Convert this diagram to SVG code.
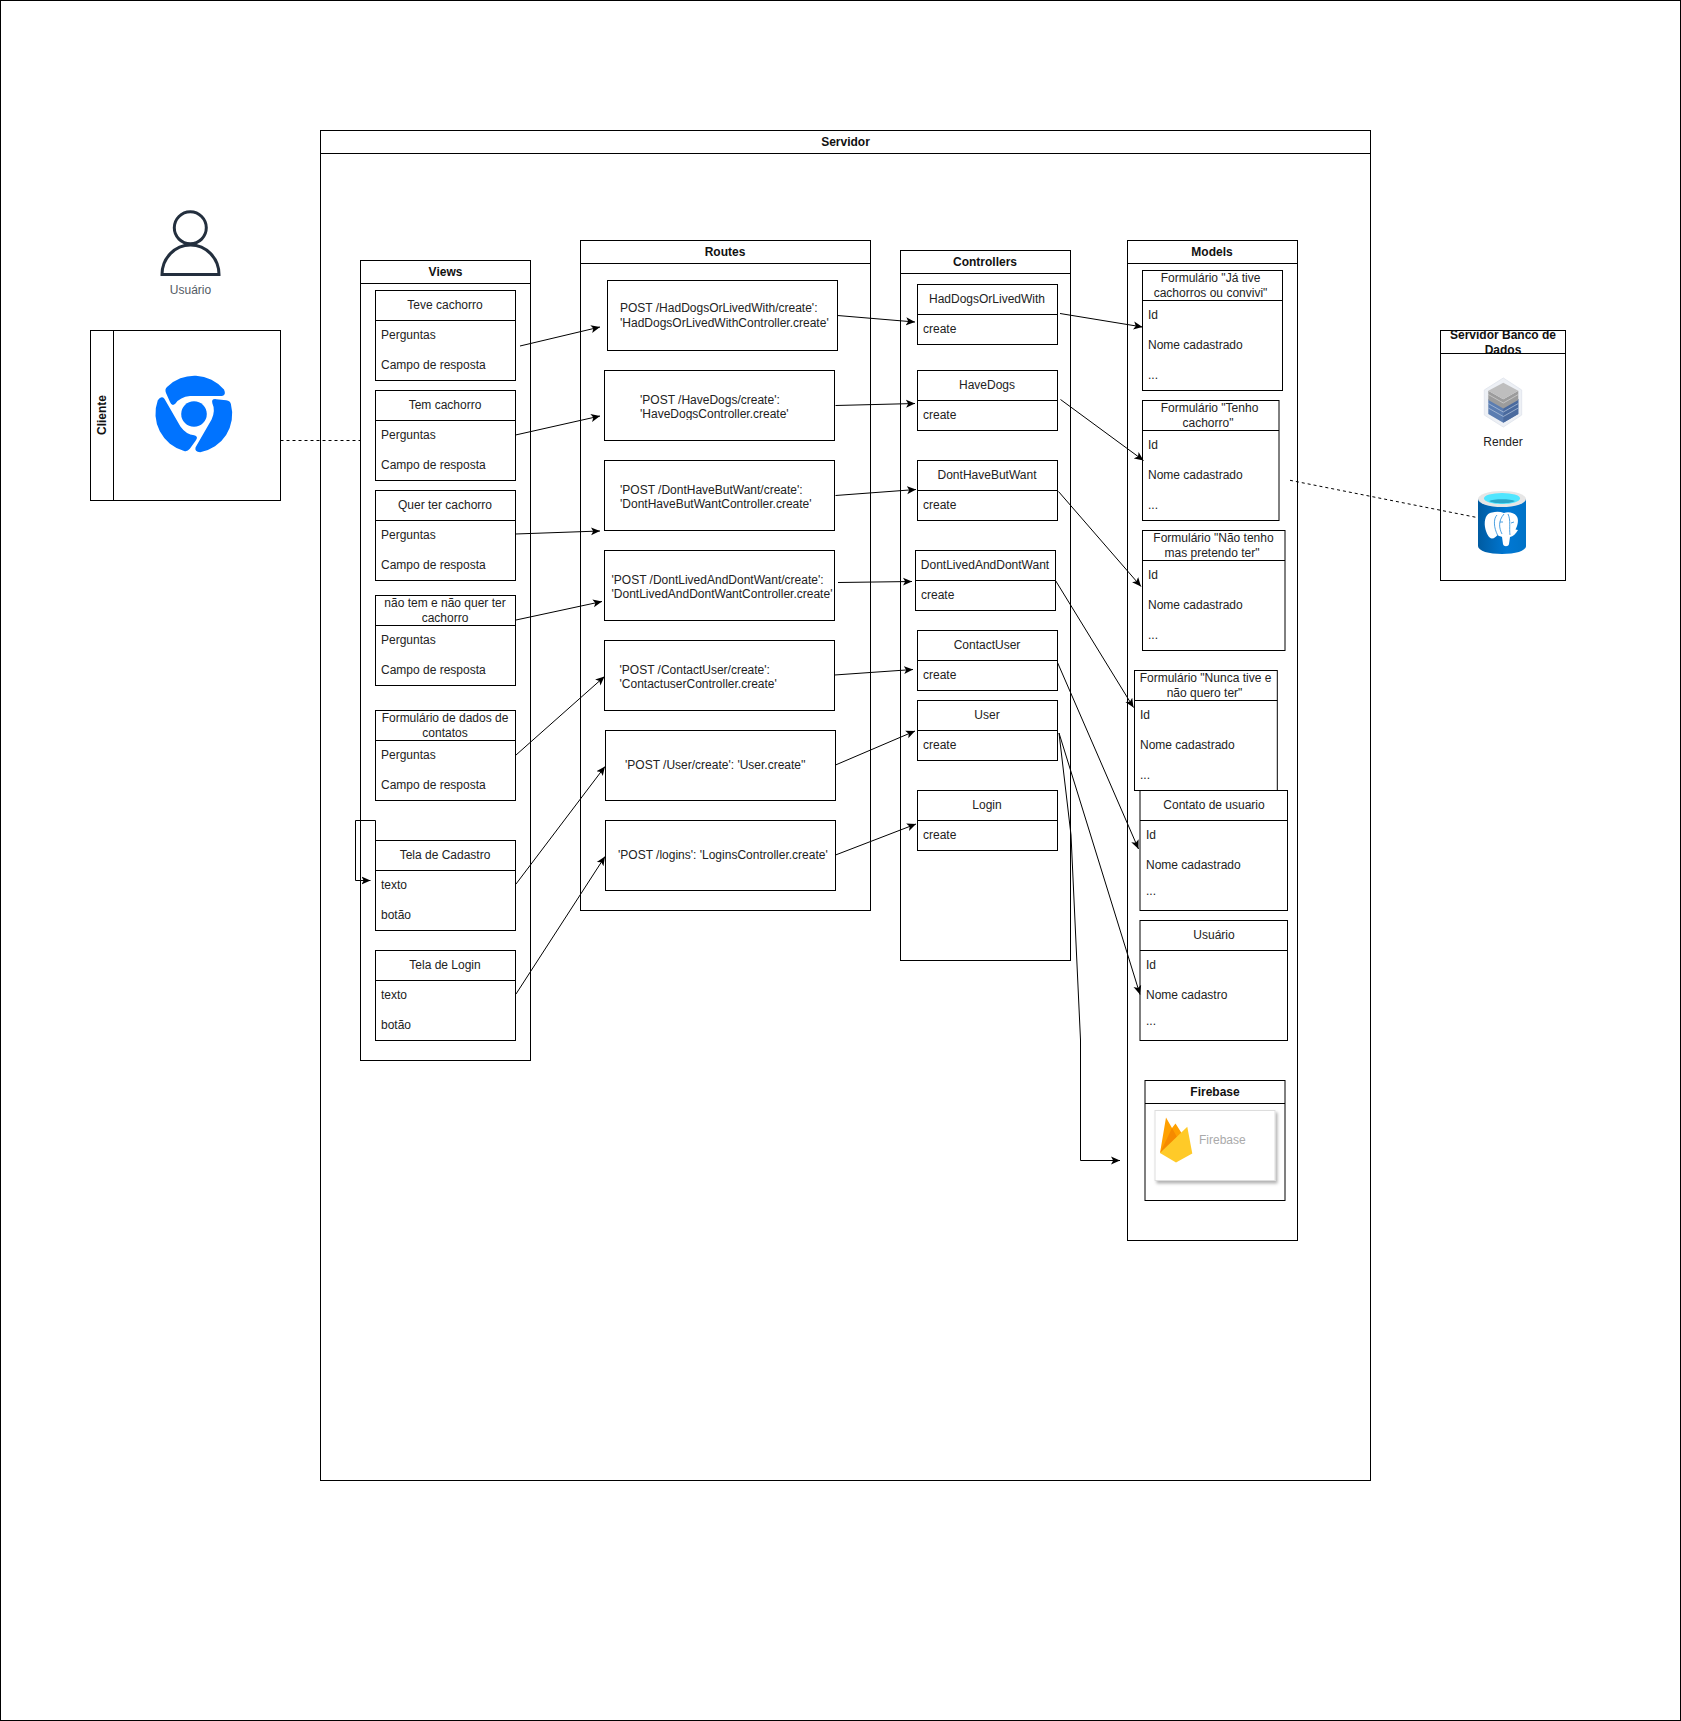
<svg xmlns="http://www.w3.org/2000/svg" xmlns:xlink="http://www.w3.org/1999/xlink" width="1681" height="1721" viewBox="0 0 1681 1721">
<style>
rect,line.s,path.s{fill:none;stroke:#000;stroke-width:1}
text{font-family:"Liberation Sans",Arial,sans-serif;font-size:12px;fill:#222}
.c{text-anchor:middle}
.h{font-weight:bold;fill:#111}
#connectors path{fill:none;stroke:#000;stroke-width:1}
#connectors path.d{stroke-dasharray:3 3}
#connectors path.a{marker-end:url(#arr)}
</style>
<defs>
<marker id="arr" markerUnits="userSpaceOnUse" markerWidth="10" markerHeight="10" refX="9" refY="4.5" orient="auto" viewBox="0 0 10 9"><path d="M0,0.5 L9,4.5 L0,8.5 L2.2,4.5Z" fill="#000"/></marker>
<path id="blob" d="M167,387 A38.7,38.7 0 0 1 224,389.5 Q226.5,395 222,396 L190,396 Q180,397 175.5,403.5 Q172,407 170,402 L166,393 Q164.5,389 167,387Z" fill="#0073FF"/>
<filter id="sh" x="-10%" y="-10%" width="125%" height="125%"><feDropShadow dx="2" dy="2.5" stdDeviation="1.5" flood-color="#000" flood-opacity="0.3"/></filter>
<linearGradient id="cyl" x1="0" x2="1" y1="0" y2="0"><stop offset="0" stop-color="#005BA1"/><stop offset="0.6" stop-color="#0078D4"/><stop offset="1" stop-color="#0072C6"/></linearGradient>
<clipPath id="dbclip"><rect x="1440" y="330" width="125" height="23"/></clipPath>
<clipPath id="r2clip"><rect x="630" y="405" width="180" height="15"/></clipPath>
</defs>
<rect width="1681" height="1721" style="fill:#fff;stroke:none"/>
<rect id="frame" x="0.5" y="0.5" width="1680" height="1720"/>

<g id="servidor"><rect x="320.5" y="130.5" width="1050" height="1350"/><line class="s" x1="320.5" y1="153.5" x2="1370.5" y2="153.5"/><text class="c h" x="845.5" y="146">Servidor</text></g>

<g id="usuario">
<circle cx="190.3" cy="227.8" r="16" fill="none" stroke="#232F3E" stroke-width="3"/>
<path d="M162,274.5 A28.5,29.5 0 0 1 219,274.5Z" fill="none" stroke="#232F3E" stroke-width="3"/>
<text class="c" x="190.5" y="294" style="fill:#545B64">Usuário</text></g>

<g id="cliente"><rect x="90.5" y="330.5" width="190" height="170"/><line class="s" x1="113.5" y1="330.5" x2="113.5" y2="500.5"/>
<text class="c h" transform="translate(106,415) rotate(-90)">Cliente</text>
<circle cx="194" cy="414" r="12.8" fill="#0073FF"/><use href="#blob"/><use href="#blob" transform="rotate(120 194 414)"/><use href="#blob" transform="rotate(-120 194 414)"/></g>

<g id="views"><rect x="360.5" y="260.5" width="170" height="800"/><line class="s" x1="360.5" y1="283.5" x2="530.5" y2="283.5"/><text class="c h" x="445.5" y="276">Views</text></g>

<g id="v-teve"><rect x="375.5" y="290.5" width="140" height="90"/><line class="s" x1="375.5" y1="320.5" x2="515.5" y2="320.5"/><text class="c" x="445" y="309">Teve cachorro</text><text x="381" y="339">Perguntas</text><text x="381" y="369">Campo de resposta</text></g>
<g id="v-tem"><rect x="375.5" y="390.5" width="140" height="90"/><line class="s" x1="375.5" y1="420.5" x2="515.5" y2="420.5"/><text class="c" x="445" y="409">Tem cachorro</text><text x="381" y="439">Perguntas</text><text x="381" y="469">Campo de resposta</text></g>
<g id="v-quer"><rect x="375.5" y="490.5" width="140" height="90"/><line class="s" x1="375.5" y1="520.5" x2="515.5" y2="520.5"/><text class="c" x="445" y="509">Quer ter cachorro</text><text x="381" y="539">Perguntas</text><text x="381" y="569">Campo de resposta</text></g>
<g id="v-nao"><rect x="375.5" y="595.5" width="140" height="90"/><line class="s" x1="375.5" y1="625.5" x2="515.5" y2="625.5"/><text class="c" x="445" y="607">não tem e não quer ter</text><text class="c" x="445" y="622">cachorro</text><text x="381" y="644">Perguntas</text><text x="381" y="674">Campo de resposta</text></g>
<g id="v-form"><rect x="375.5" y="710.5" width="140" height="90"/><line class="s" x1="375.5" y1="740.5" x2="515.5" y2="740.5"/><text class="c" x="445" y="722">Formulário de dados de</text><text class="c" x="445" y="737">contatos</text><text x="381" y="759">Perguntas</text><text x="381" y="789">Campo de resposta</text></g>
<g id="v-cadastro"><rect x="375.5" y="840.5" width="140" height="90"/><line class="s" x1="375.5" y1="870.5" x2="515.5" y2="870.5"/><text class="c" x="445" y="859">Tela de Cadastro</text><text x="381" y="889">texto</text><text x="381" y="919">botão</text></g>
<g id="v-login"><rect x="375.5" y="950.5" width="140" height="90"/><line class="s" x1="375.5" y1="980.5" x2="515.5" y2="980.5"/><text class="c" x="445" y="969">Tela de Login</text><text x="381" y="999">texto</text><text x="381" y="1029">botão</text></g>

<g id="routes"><rect x="580.5" y="240.5" width="290" height="670"/><line class="s" x1="580.5" y1="263.5" x2="870.5" y2="263.5"/><text class="c h" x="725" y="256">Routes</text></g>
<g id="r1"><rect x="607.5" y="280.5" width="230" height="70"/><text x="620" y="312">POST /HadDogsOrLivedWith/create':</text><text x="620" y="327">'HadDogsOrLivedWithController.create'</text></g>
<g id="r2"><rect x="604.5" y="370.5" width="230" height="70"/><text x="640" y="404">'POST /HaveDogs/create':</text><text x="640" y="418" clip-path="url(#r2clip)">'HaveDogsController.create'</text></g>
<g id="r3"><rect x="604.5" y="460.5" width="230" height="70"/><text x="620" y="494">'POST /DontHaveButWant/create':</text><text x="620" y="508">'DontHaveButWantController.create'</text></g>
<g id="r4"><rect x="604.5" y="550.5" width="230" height="70"/><text x="611.5" y="584">'POST /DontLivedAndDontWant/create':</text><text x="611.5" y="598">'DontLivedAndDontWantController.create'</text></g>
<g id="r5"><rect x="604.5" y="640.5" width="230" height="70"/><text x="619.5" y="674">'POST /ContactUser/create':</text><text x="619.5" y="688">'ContactuserController.create'</text></g>
<g id="r6"><rect x="605.5" y="730.5" width="230" height="70"/><text x="625" y="769">'POST /User/create': 'User.create''</text></g>
<g id="r7"><rect x="605.5" y="820.5" width="230" height="70"/><text x="618" y="859">'POST /logins': 'LoginsController.create'</text></g>

<g id="controllers"><rect x="900.5" y="250.5" width="170" height="710"/><line class="s" x1="900.5" y1="273.5" x2="1070.5" y2="273.5"/><text class="c h" x="985" y="266">Controllers</text></g>
<g id="c1"><rect x="917.5" y="284.5" width="140" height="60"/><line class="s" x1="917.5" y1="314.5" x2="1057.5" y2="314.5"/><text class="c" x="987" y="303">HadDogsOrLivedWith</text><text x="923" y="333">create</text></g>
<g id="c2"><rect x="917.5" y="370.5" width="140" height="60"/><line class="s" x1="917.5" y1="400.5" x2="1057.5" y2="400.5"/><text class="c" x="987" y="389">HaveDogs</text><text x="923" y="419">create</text></g>
<g id="c3"><rect x="917.5" y="460.5" width="140" height="60"/><line class="s" x1="917.5" y1="490.5" x2="1057.5" y2="490.5"/><text class="c" x="987" y="479">DontHaveButWant</text><text x="923" y="509">create</text></g>
<g id="c4"><rect x="915.5" y="550.5" width="140" height="60"/><line class="s" x1="915.5" y1="580.5" x2="1055.5" y2="580.5"/><text class="c" x="985" y="569">DontLivedAndDontWant</text><text x="921" y="599">create</text></g>
<g id="c5"><rect x="917.5" y="630.5" width="140" height="60"/><line class="s" x1="917.5" y1="660.5" x2="1057.5" y2="660.5"/><text class="c" x="987" y="649">ContactUser</text><text x="923" y="679">create</text></g>
<g id="c6"><rect x="917.5" y="700.5" width="140" height="60"/><line class="s" x1="917.5" y1="730.5" x2="1057.5" y2="730.5"/><text class="c" x="987" y="719">User</text><text x="923" y="749">create</text></g>
<g id="c7"><rect x="917.5" y="790.5" width="140" height="60"/><line class="s" x1="917.5" y1="820.5" x2="1057.5" y2="820.5"/><text class="c" x="987" y="809">Login</text><text x="923" y="839">create</text></g>

<g id="models"><rect x="1127.5" y="240.5" width="170" height="1000"/><line class="s" x1="1127.5" y1="263.5" x2="1297.5" y2="263.5"/><text class="c h" x="1212" y="256">Models</text></g>
<g id="m1"><rect x="1142.5" y="270.5" width="140" height="120"/><line class="s" x1="1142.5" y1="300.5" x2="1282.5" y2="300.5"/><text class="c" x="1210.5" y="282">Formulário "Já tive</text><text class="c" x="1210.5" y="297">cachorros ou convivi"</text><text x="1148" y="319">Id</text><text x="1148" y="349">Nome cadastrado</text><text x="1148" y="379">...</text></g>
<g id="m2"><rect x="1142.5" y="400.5" width="136.5" height="120"/><line class="s" x1="1142.5" y1="430.5" x2="1279" y2="430.5"/><text class="c" x="1209.5" y="412">Formulário "Tenho</text><text class="c" x="1208" y="427">cachorro"</text><text x="1148" y="449">Id</text><text x="1148" y="479">Nome cadastrado</text><text x="1148" y="509">...</text></g>
<g id="m3"><rect x="1142.5" y="530.5" width="142.5" height="120"/><line class="s" x1="1142.5" y1="560.5" x2="1285" y2="560.5"/><text class="c" x="1213.5" y="542">Formulário "Não tenho</text><text class="c" x="1212" y="557">mas pretendo ter"</text><text x="1148" y="579">Id</text><text x="1148" y="609">Nome cadastrado</text><text x="1148" y="639">...</text></g>
<g id="m4"><rect x="1134.5" y="670.5" width="142.8" height="120"/><line class="s" x1="1134.5" y1="700.5" x2="1277.3" y2="700.5"/><text class="c" x="1205.5" y="682">Formulário "Nunca tive e</text><text class="c" x="1204.5" y="697">não quero ter"</text><text x="1140" y="719">Id</text><text x="1140" y="749">Nome cadastrado</text><text x="1140" y="779">...</text></g>
<g id="m5"><rect x="1140" y="790.5" width="147.5" height="120"/><line class="s" x1="1140" y1="820.5" x2="1287.5" y2="820.5"/><text class="c" x="1214" y="809">Contato de usuario</text><text x="1146" y="839">Id</text><text x="1146" y="869">Nome cadastrado</text><text x="1146" y="895">...</text></g>
<g id="m6"><rect x="1140" y="920.5" width="147.5" height="120"/><line class="s" x1="1140" y1="950.5" x2="1287.5" y2="950.5"/><text class="c" x="1214" y="939">Usuário</text><text x="1146" y="969">Id</text><text x="1146" y="999">Nome cadastro</text><text x="1146" y="1025">...</text></g>

<g id="firebase"><rect x="1145" y="1080.5" width="140" height="120"/><line class="s" x1="1145" y1="1103.5" x2="1285" y2="1103.5"/><text class="c h" x="1215" y="1096">Firebase</text>
<rect x="1155" y="1110.5" width="120" height="70" style="fill:#fff;stroke:#ddd" filter="url(#sh)"/>
<path d="M1160,1153 L1166,1117.5 L1172,1128 L1175.5,1123.5 L1186,1140Z" fill="#FFA000"/>
<path d="M1160,1153 L1172,1128 L1177,1137Z" fill="#F68A00"/>
<path d="M1160,1153 L1187.3,1126.7 L1192.3,1153.5 L1176,1162.5Z" fill="#FFCA28"/>
<text x="1199" y="1144" style="fill:#aaa">Firebase</text></g>

<g id="db-server"><rect x="1440.5" y="330.5" width="125" height="250"/><line class="s" x1="1440.5" y1="353.5" x2="1565.5" y2="353.5"/>
<g clip-path="url(#dbclip)"><text class="c h" x="1503" y="339">Servidor Banco de</text><text class="c h" x="1503" y="354">Dados</text></g></g>

<g id="render">
<path d="M1503.3,378 L1521.7,390 L1521.7,415 L1503.3,427 L1484.3,415 L1484.3,390Z" fill="#EDF0F5" stroke="#E3E7EE"/>
<path d="M1488.3,399 L1503.3,407.5 L1518.3,399 L1518.3,414 L1503.3,422.7 L1488.3,414Z" fill="#5B7DB1"/>
<path d="M1503.3,407.5 L1518.3,399 L1518.3,414 L1503.3,422.7Z" fill="#4A6A9E"/>
<path d="M1488.3,390.7 L1503.3,399.3 L1518.3,390.7 L1518.3,400 L1503.3,408.5 L1488.3,400Z" fill="#9C9C9C"/>
<path d="M1488.3,394.5 L1503.3,403 L1518.3,394.5" fill="none" stroke="#D5D5D5" stroke-width="0.7"/>
<path d="M1503.3,382.7 L1518.3,390.7 L1503.3,399.3 L1488.3,390.7Z" fill="#BEBEBE"/>
<path d="M1488.3,403.5 L1503.3,412 L1518.3,403.5 M1488.3,408 L1503.3,416.5 L1518.3,408" fill="none" stroke="#B9C8DE" stroke-width="0.7"/>
<text class="c" x="1503" y="446">Render</text></g>

<g id="postgres">
<path d="M1478,499 V546 C1478,551 1489,554 1502,554 C1515,554 1526,551 1526,546 V499Z" fill="url(#cyl)"/>
<ellipse cx="1502" cy="499" rx="24" ry="8" fill="#E6E6E6"/>
<ellipse cx="1502" cy="498.5" rx="18" ry="5.5" fill="#50E6FF"/>
<path d="M1489,501 C1493,498.5 1511,498.5 1515,501 C1511,504 1493,504 1489,501Z" fill="#2AA7C9"/>
<path d="M1492,512.5 C1486,513 1484,520 1485,527 C1486,533 1489,538.5 1492,538.5 C1494.5,538.5 1496,536.5 1497.5,535 C1499,536 1501,536.5 1502,537 L1503,544 C1503.5,547 1508.5,547 1509,544 L1510,537 C1513,536.5 1516,533.5 1518,530 L1515.5,529.5 C1518,525 1519,519 1516.5,516 C1514,512 1507,511.5 1504,513 C1500,511.5 1496,511.5 1492,512.5Z" fill="#fff"/>
<path d="M1497,515 C1493,519 1494,528 1497.5,535 M1502,534 C1499,528 1498,521 1504,514 M1510,535 C1509,528 1511,520 1508,514 M1500,522 L1503,522 M1511,523 L1514,522" fill="none" stroke="#0078D4" stroke-width="0.7"/></g>

<g id="connectors">
<path class="d" d="M280.5,440.5 H360.5"/>
<path class="d" d="M1290,480.3 L1476,517.3"/>
<path class="a" d="M375.5,840.5 V820.5 H355.5 V880.5 H370.5"/>
<path class="a" d="M520,346 L600,327"/>
<path class="a" d="M515.5,435 L600,416"/>
<path class="a" d="M515.5,534 L600,531"/>
<path class="a" d="M516,620 L602,601.5"/>
<path class="a" d="M516,755 L604.5,676.5"/>
<path class="a" d="M516,884 L605,766.5"/>
<path class="a" d="M516,994 L605,856.5"/>
<path class="a" d="M837.5,315.5 L915,322"/>
<path class="a" d="M835.5,405.5 L915,403.5"/>
<path class="a" d="M835.5,495.5 L916,489.5"/>
<path class="a" d="M838,582.5 L912,581.5"/>
<path class="a" d="M834.5,675 L913,669.5"/>
<path class="a" d="M835.5,765 L915,731"/>
<path class="a" d="M835.5,855 L916,824"/>
<path class="a" d="M1060,313.5 L1142.5,327"/>
<path class="a" d="M1060.5,399.5 L1143.5,460.5"/>
<path class="a" d="M1058.5,491.5 L1141,586.5"/>
<path class="a" d="M1055.5,580.5 L1133.5,707.5"/>
<path class="a" d="M1057.5,662.5 L1138.5,849"/>
<path class="a" d="M1059,733 L1140,994.5"/>
<path class="a" d="M1059,733 L1071,835 L1080.5,1040 V1160.5 H1120"/>
</g>
</svg>
